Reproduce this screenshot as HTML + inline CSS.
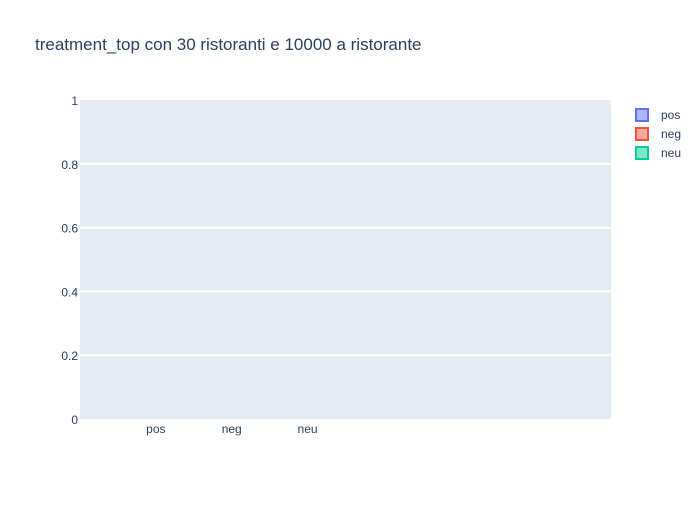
<!DOCTYPE html>
<html><head><meta charset="utf-8"><style>
body{margin:0;background:#fff;font-family:"Liberation Sans",Arial,sans-serif;}
svg text{font-family:"Liberation Sans",Arial,sans-serif;fill:#2a3f5f;}
</style></head><body>
<svg id="chart" width="700" height="500" xmlns="http://www.w3.org/2000/svg">
<rect width="700" height="500" fill="#fff"/>
<text x="35" y="50" font-size="17">treatment_top con 30 ristoranti e 10000 a ristorante</text>
<rect x="80" y="100" width="531" height="319" fill="#e5ecf6"/>
<g id="grid"></g><g id="bars"></g><g id="yticks"></g><g id="xticks"></g>
<g id="legend"></g>
</svg>
<script>
const categories = ["pos","neg","neu"];
const values = [0,0,0];
const yTicks = [0,0.2,0.4,0.6,0.8,1];
const yTickLabels = ["0","0.2","0.4","0.6","0.8","1"];
const seriesColors = ["#636efa","#ef553b","#00cc96"];
const NS="http://www.w3.org/2000/svg";
const x0=80,x1=611,y0=419,y1=100;
function xScale(i){return x0+(i+1)/7*(x1-x0);}
function yScale(v){return y0-(v-0)/(1-0)*(y0-y1);}
function mk(tag,attrs,parent){const e=document.createElementNS(NS,tag);for(const k in attrs)e.setAttribute(k,attrs[k]);parent.appendChild(e);return e;}
const grid=document.getElementById('grid'),yt=document.getElementById('yticks'),xt=document.getElementById('xticks'),bars=document.getElementById('bars'),lg=document.getElementById('legend');
yTicks.forEach((v,i)=>{
  if(v>0&&v<1){const l=mk('line',{x1:x0,x2:x1,y1:yScale(v),y2:yScale(v),stroke:'#fff','stroke-width':2},grid);
  
  }
  const t=mk('text',{x:78,y:yScale(v)+5,'font-size':12,'text-anchor':'end'},yt);t.textContent=yTickLabels[i];
  
  
});
categories.forEach((c,i)=>{
  const t=mk('text',{x:xScale(i),y:433,'font-size':12,'text-anchor':'middle'},xt);t.textContent=c;
  
  
  const w=(x1-x0)/7*0.8;
  const b=mk('rect',{x:xScale(i)-w/2,y:yScale(values[i]),width:w,height:y0-yScale(values[i]),fill:seriesColors[i],opacity:0.5},bars);
  
  
  const ly=115+i*19;
  const r=mk('rect',{x:636,y:ly-6,width:12,height:12,fill:seriesColors[i],'fill-opacity':0.5,stroke:seriesColors[i],'stroke-width':2},lg);
  
  
  const lt=mk('text',{x:661,y:ly+4,'font-size':12},lg);lt.textContent=c;
  
  
});
</script>
</body></html>
